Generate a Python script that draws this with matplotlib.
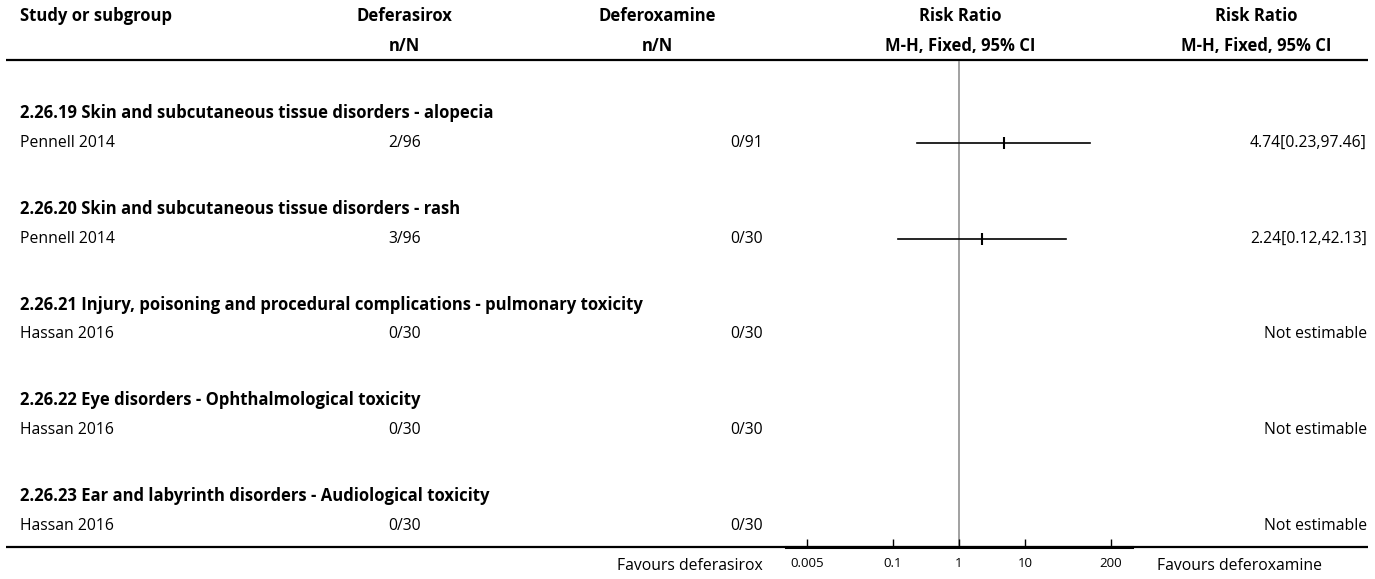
import matplotlib
matplotlib.use("Agg")
import matplotlib.pyplot as plt
import numpy as np

# ---------------- data ----------------
groups = [
    "2.26.19 Skin and subcutaneous tissue disorders - alopecia",
    "2.26.20 Skin and subcutaneous tissue disorders - rash",
    "2.26.21 Injury, poisoning and procedural complications - pulmonary toxicity",
    "2.26.22 Eye disorders - Ophthalmological toxicity",
    "2.26.23 Ear and labyrinth disorders - Audiological toxicity",
]
studies = ["Pennell 2014", "Pennell 2014", "Hassan 2016", "Hassan 2016", "Hassan 2016"]
deferasirox_nN = ["2/96", "3/96", "0/30", "0/30", "0/30"]
deferoxamine_nN = ["0/91", "0/30", "0/30", "0/30", "0/30"]
rr = [4.74, 2.24, None, None, None]
rr_lo = [0.23, 0.12, None, None, None]
rr_hi = [97.46, 42.13, None, None, None]
rr_text = ["4.74[0.23,97.46]", "2.24[0.12,42.13]", "Not estimable", "Not estimable", "Not estimable"]
axis_ticks = [0.005, 0.1, 1, 10, 200]
axis_ticklabels = ["0.005", "0.1", "1", "10", "200"]
favours_left = "Favours deferasirox"
favours_right = "Favours deferoxamine"

# ---------------- layout ----------------
W, H = 1375, 579
FONT = ["Open Sans", "DejaVu Sans"]
FS = 11.3
FSB = 12.0
plt.rcParams['font.family'] = FONT

fig = plt.figure(figsize=(W / 100, H / 100), dpi=100)
bg = fig.add_axes([0, 0, 1, 1])
bg.set_xlim(0, W)
bg.set_ylim(H, 0)
bg.axis("off")

def btxt(x, y, s, ha):
    bg.text(x, y, s, fontsize=FSB, fontweight="bold", va="center", ha=ha)

def rtxt(x, y, s, ha):
    bg.text(x, y, s, fontsize=FS, va="center", ha=ha)

LX = 20
# header
hy1, hy2 = 16, 46
btxt(LX, hy1, "Study or subgroup", "left")
btxt(404, hy1, "Deferasirox", "center")
btxt(404, hy2, "n/N", "center")
btxt(657, hy1, "Deferoxamine", "center")
btxt(657, hy2, "n/N", "center")
btxt(960, hy1, "Risk Ratio", "center")
btxt(960, hy2, "M-H, Fixed, 95% CI", "center")
btxt(1256, hy1, "Risk Ratio", "center")
btxt(1256, hy2, "M-H, Fixed, 95% CI", "center")

bg.plot([6, 1368], [60, 60], color="black", lw=1.6, solid_capstyle="butt")
bg.plot([6, 1368], [547, 547], color="black", lw=1.6, solid_capstyle="butt")

row0, step = 143, 95.75
study_y = [row0 + i * step for i in range(len(studies))]
group_y = [y - 30 for y in study_y]

for i in range(len(studies)):
    btxt(LX, group_y[i], groups[i], "left")
    rtxt(LX, study_y[i], studies[i], "left")
    rtxt(421, study_y[i], deferasirox_nN[i], "right")
    rtxt(763, study_y[i], deferoxamine_nN[i], "right")
    rtxt(1367, study_y[i], rr_text[i], "right")

rtxt(763, 566, favours_left, "right")
rtxt(1157, 566, favours_right, "left")

# forest axes
x0, x1 = 786, 1132
ytop, ybot = 61, 547
ax = fig.add_axes([x0 / W, 1 - ybot / H, (x1 - x0) / W, (ybot - ytop) / H])
ax.set_xscale("log")
ax.set_xlim(1 / 420, 420)
ax.set_ylim(ybot, ytop)
ax.patch.set_alpha(0)
for s in ["top", "left", "right"]:
    ax.spines[s].set_visible(False)
ax.spines["bottom"].set_linewidth(2.2)
ax.set_yticks([])
ax.axvline(1, color="#888888", lw=1.1, zorder=1)
ax.set_xticks(axis_ticks)
ax.set_xticklabels(axis_ticklabels)
ax.xaxis.set_minor_locator(matplotlib.ticker.NullLocator())
ax.tick_params(axis="x", direction="in", length=6, width=1, labelsize=9.5, pad=7)

for i in range(len(studies)):
    if rr[i] is None:
        continue
    ax.plot([rr_lo[i], rr_hi[i]], [study_y[i], study_y[i]], color="black", lw=1.2, zorder=3)
    ax.plot([rr[i]], [study_y[i]], marker="|", markersize=8, mew=1.5, color="black", zorder=4)

fig.savefig("out.png", dpi=100)
